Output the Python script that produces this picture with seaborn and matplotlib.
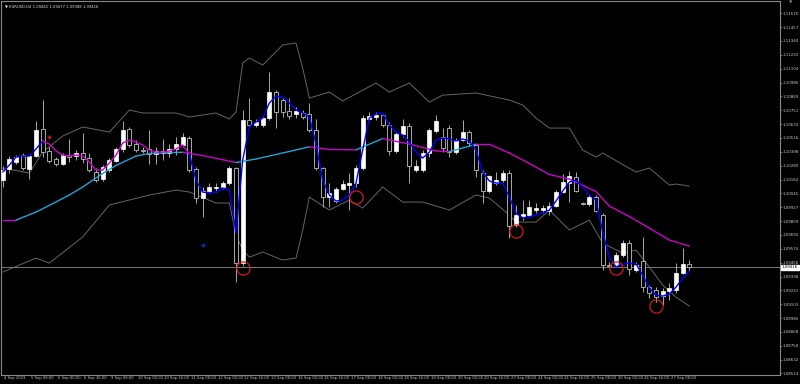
import numpy as np
import pandas as pd
import matplotlib
matplotlib.use("Agg")
import matplotlib.pyplot as plt
import matplotlib.transforms as mtransforms
import seaborn as sns

# ---------------- data (EURUSD H4, 4 Sep 16:00 .. 27 Sep 20:00) ----------------
opens = [1.10158, 1.10252, 1.10311, 1.10371, 1.10252, 1.10362, 1.10592, 1.10405, 1.10337, 1.10294,
         1.10371, 1.10362, 1.10388, 1.10345, 1.10226, 1.10167, 1.10243, 1.10320, 1.10422, 1.10592,
         1.10464, 1.10413, 1.10422, 1.10379, 1.10388, 1.10388, 1.10422, 1.10456, 1.10515, 1.10252,
         1.10005, 1.10065, 1.10092, 1.10099, 1.10133, 1.10260, 1.09452, 1.10668, 1.10626, 1.10626,
         1.10685, 1.10906, 1.10838, 1.10745, 1.10719, 1.10728, 1.10719, 1.10583, 1.10260, 1.10014,
         1.09980, 1.10082, 1.10116, 1.10133, 1.10260, 1.10677, 1.10694, 1.10711, 1.10626, 1.10405,
         1.10549, 1.10617, 1.10243, 1.10243, 1.10388, 1.10575, 1.10524, 1.10600, 1.10396, 1.10498,
         1.10566, 1.10456, 1.10218, 1.10065, 1.10133, 1.10158, 1.10218, 1.09776, 1.09852, 1.09861,
         1.09903, 1.09903, 1.09895, 1.09937, 1.10056, 1.10133, 1.10184, 1.09963, 1.09954, 1.10014,
         1.09861, 1.09436, 1.09436, 1.09521, 1.09622, 1.09393, 1.09469, 1.09248, 1.09223, 1.09172,
         1.09214, 1.09223, 1.09367, 1.09442]
highs = [1.10277, 1.10362, 1.10371, 1.10388, 1.10371, 1.10660, 1.10838, 1.10439, 1.10354, 1.10388,
         1.10507, 1.10413, 1.10558, 1.10388, 1.10260, 1.10286, 1.10345, 1.10439, 1.10660, 1.10609,
         1.10498, 1.10439, 1.10583, 1.10439, 1.10507, 1.10464, 1.10524, 1.10558, 1.10532, 1.10269,
         1.10099, 1.10133, 1.10133, 1.10150, 1.10277, 1.10269, 1.10753, 1.10855, 1.10677, 1.10702,
         1.11076, 1.10923, 1.10855, 1.10855, 1.10779, 1.10753, 1.10813, 1.10677, 1.10269, 1.10133,
         1.10099, 1.10158, 1.10218, 1.10286, 1.10711, 1.10736, 1.10736, 1.10728, 1.10651, 1.10566,
         1.10677, 1.10643, 1.10328, 1.10413, 1.10600, 1.10711, 1.10600, 1.10626, 1.10515, 1.10668,
         1.10583, 1.10473, 1.10243, 1.10201, 1.10226, 1.10243, 1.10243, 1.09946, 1.09988, 1.09988,
         1.09963, 1.09946, 1.09971, 1.10073, 1.10209, 1.10235, 1.10226, 1.09971, 1.10031, 1.10031,
         1.09878, 1.09461, 1.09546, 1.09648, 1.09648, 1.09461, 1.09674, 1.09265, 1.09248, 1.09240,
         1.09283, 1.09452, 1.09580, 1.09477]
lows = [1.10099, 1.10218, 1.10294, 1.10243, 1.10167, 1.10354, 1.10354, 1.10303, 1.10277, 1.10286,
        1.10311, 1.10328, 1.10303, 1.10226, 1.10141, 1.10150, 1.10226, 1.10311, 1.10396, 1.10439,
        1.10396, 1.10388, 1.10294, 1.10294, 1.10328, 1.10354, 1.10371, 1.10439, 1.10226, 1.09963,
        1.09844, 1.10048, 1.10056, 1.10082, 1.10116, 1.09291, 1.09427, 1.10600, 1.10609, 1.10609,
        1.10668, 1.10600, 1.10694, 1.10677, 1.10685, 1.10677, 1.10566, 1.10243, 1.09929, 1.09929,
        1.09963, 1.10073, 1.09903, 1.10099, 1.10243, 1.10668, 1.10668, 1.10609, 1.10371, 1.10388,
        1.10524, 1.10133, 1.10226, 1.10226, 1.10354, 1.10558, 1.10396, 1.10354, 1.10379, 1.10490,
        1.10447, 1.10184, 1.09963, 1.10048, 1.10116, 1.10141, 1.09665, 1.09759, 1.09818, 1.09844,
        1.09878, 1.09878, 1.09861, 1.09929, 1.10048, 1.09971, 1.10056, 1.09946, 1.09937, 1.09886,
        1.09393, 1.09410, 1.09419, 1.09503, 1.09350, 1.09376, 1.09206, 1.09155, 1.09121, 1.09095,
        1.09138, 1.09197, 1.09359, 1.09388]
closes = [1.10243, 1.10337, 1.10354, 1.10260, 1.10362, 1.10583, 1.10396, 1.10320, 1.10294, 1.10371,
          1.10354, 1.10388, 1.10337, 1.10243, 1.10158, 1.10269, 1.10328, 1.10422, 1.10583, 1.10456,
          1.10413, 1.10409, 1.10379, 1.10405, 1.10405, 1.10422, 1.10464, 1.10524, 1.10243, 1.10005,
          1.10065, 1.10099, 1.10096, 1.10133, 1.10260, 1.09452, 1.10668, 1.10626, 1.10651, 1.10685,
          1.10906, 1.10736, 1.10736, 1.10702, 1.10745, 1.10694, 1.10583, 1.10260, 1.10014, 1.10048,
          1.10082, 1.10124, 1.10133, 1.10260, 1.10685, 1.10702, 1.10711, 1.10626, 1.10405, 1.10549,
          1.10617, 1.10277, 1.10277, 1.10388, 1.10583, 1.10660, 1.10430, 1.10396, 1.10498, 1.10566,
          1.10473, 1.10243, 1.10065, 1.10192, 1.10158, 1.10218, 1.09767, 1.09861, 1.09869, 1.09929,
          1.09920, 1.09920, 1.09937, 1.10056, 1.10141, 1.10192, 1.10065, 1.09954, 1.10014, 1.09895,
          1.09436, 1.09427, 1.09521, 1.09622, 1.09401, 1.09436, 1.09248, 1.09197, 1.09163, 1.09214,
          1.09240, 1.09367, 1.09444, 1.09416]

# fast moving average (one value per bar)
fast_ma = [1.10226, 1.10286, 1.10354, 1.10362, 1.10362, 1.10422, 1.10490, 1.10464, 1.10405, 1.10371,
           1.10362, 1.10371, 1.10362, 1.10311, 1.10243, 1.10243, 1.10303, 1.10371, 1.10473, 1.10498,
           1.10481, 1.10456, 1.10413, 1.10396, 1.10396, 1.10405, 1.10422, 1.10456, 1.10379, 1.10158,
           1.10056, 1.10048, 1.10056, 1.10090, 1.10073, 1.09708, 1.10328, 1.10609, 1.10651, 1.10685,
           1.10813, 1.10872, 1.10864, 1.10813, 1.10753, 1.10728, 1.10694, 1.10464, 1.10158, 1.10031,
           1.09980, 1.09988, 1.10031, 1.10133, 1.10413, 1.10685, 1.10719, 1.10728, 1.10626, 1.10566,
           1.10541, 1.10481, 1.10396, 1.10345, 1.10396, 1.10498, 1.10515, 1.10507, 1.10490, 1.10507,
           1.10490, 1.10413, 1.10226, 1.10150, 1.10133, 1.10133, 1.10014, 1.09878, 1.09835, 1.09844,
           1.09861, 1.09878, 1.09903, 1.09980, 1.10065, 1.10141, 1.10158, 1.10099, 1.10031, 1.09988,
           1.09716, 1.09503, 1.09419, 1.09444, 1.09452, 1.09444, 1.09350, 1.09240, 1.09180, 1.09172,
           1.09189, 1.09248, 1.09325, 1.09384]
fast_alt_from, fast_alt_to = 6, 28   # stretch drawn in magenta

# slow moving average, read at selected bars
slow_bars = [0, 2, 5, 7, 10, 12, 15, 17, 20, 22, 25, 27, 30, 32, 35, 38, 43, 46, 49, 53,
             57, 61, 65, 67, 71, 73, 76, 79, 82, 85, 89, 91, 94, 97, 100, 103]
slow_vals = [1.09818, 1.09818, 1.09886, 1.09943, 1.10031, 1.10099, 1.10214, 1.10282, 1.10362, 1.10384,
             1.10392, 1.10394, 1.10366, 1.10343, 1.10307, 1.10337, 1.10401, 1.10441, 1.10418, 1.10415,
             1.10511, 1.10464, 1.10405, 1.10400, 1.10462, 1.10462, 1.10388, 1.10299, 1.10205, 1.10167,
             1.10061, 1.09937, 1.09848, 1.09750, 1.09648, 1.09597]

# envelope bands, read at selected bars
upper_bars = [0, 4, 6, 9, 12, 16, 19, 21, 26, 28, 32, 34, 35, 36, 37, 39, 42, 44, 45, 46,
              49, 51, 56, 58, 61, 64, 66, 71, 76, 78, 80, 82, 85, 87, 89, 90, 95, 97, 100, 101, 103]
upper_vals = [1.10260, 1.10218, 1.10396, 1.10532, 1.10609, 1.10566, 1.10753, 1.10728, 1.10728, 1.10694,
              1.10728, 1.10677, 1.10736, 1.11153, 1.11195, 1.11136, 1.11306, 1.11323, 1.11110, 1.10855,
              1.10906, 1.10830, 1.10983, 1.10906, 1.10983, 1.10821, 1.10880, 1.10898, 1.10838, 1.10796,
              1.10685, 1.10600, 1.10600, 1.10413, 1.10354, 1.10388, 1.10226, 1.10260, 1.10116, 1.10124,
              1.10107]
lower_bars = [0, 5, 7, 12, 16, 22, 26, 28, 32, 34, 35, 36, 37, 39, 42, 44, 45, 46, 49, 52,
              54, 57, 60, 63, 67, 71, 73, 76, 77, 80, 82, 85, 88, 90, 93, 95, 97, 99, 101, 103]
lower_vals = [1.09376, 1.09495, 1.09452, 1.09674, 1.09946, 1.10031, 1.10073, 1.10056, 1.09963, 1.09963,
              1.09691, 1.09563, 1.09503, 1.09546, 1.09478, 1.09495, 1.09733, 1.10014, 1.09903, 1.09988,
              1.09920, 1.10099, 1.09971, 1.09971, 1.09903, 1.10031, 1.10005, 1.09861, 1.09801, 1.09801,
              1.09903, 1.09733, 1.09818, 1.09622, 1.09537, 1.09563, 1.09419, 1.09265, 1.09163, 1.09087]

# signal markers
signal_bars = [36, 53, 77, 92, 98]
signal_prices = [1.09414, 1.10016, 1.09727, 1.09412, 1.09090]
red_cross = (7, 1.10524)
blue_cross = (30, 1.09605)

# axis labels
x_tick_bars = list(range(0, 101, 4))
x_tick_labels = ["4 Sep 2019", "5 Sep 08:00", "6 Sep 00:00", "6 Sep 16:00", "9 Sep 08:00",
                 "10 Sep 00:00", "10 Sep 16:00", "11 Sep 08:00", "12 Sep 00:00", "12 Sep 16:00",
                 "13 Sep 08:00", "16 Sep 00:00", "16 Sep 16:00", "17 Sep 08:00", "18 Sep 00:00",
                 "18 Sep 16:00", "19 Sep 08:00", "20 Sep 00:00", "20 Sep 16:00", "23 Sep 08:00",
                 "24 Sep 00:00", "24 Sep 16:00", "25 Sep 08:00", "26 Sep 00:00", "26 Sep 16:00",
                 "27 Sep 08:00"]
y_tick_labels = ["1.11575", "1.11457", "1.11340", "1.11222", "1.11104", "1.10986", "1.10869",
                 "1.10751", "1.10633", "1.10516", "1.10398", "1.10280", "1.10162", "1.10045",
                 "1.09927", "1.09809", "1.09692", "1.09574", "1.09456", "1.09338", "1.09221",
                 "1.09103", "1.08985", "1.08868", "1.08750", "1.08632", "1.08514"]
title_text = "\u25bc EURUSD,H4 1.09442 1.09477 1.09388 1.09416"
last_price = 1.09416

# ---------------- styling ----------------
sns.set_theme(style="dark", rc={"axes.facecolor": "black", "figure.facecolor": "black",
                                "savefig.facecolor": "black"})
plt.rcParams['font.family'] = ['DejaVu Sans']

GRAY = "#8a8a8a"
WICK = "#a8a8a8"
TXT = "#c8c8c8"

fig = plt.figure(figsize=(8, 3.84), dpi=100)
ax = fig.add_axes([1 / 800, 9 / 384, 779 / 800, 374 / 384])
ax.set_facecolor("black")

o = np.array(opens); h = np.array(highs); l = np.array(lows); c = np.array(closes)
bars = np.arange(len(o))
bull = c >= o
bear = ~bull

# wicks and bodies
ax.vlines(bars, l, h, colors=WICK, linewidth=0.7, zorder=2)
ax.bar(bars[bull], (c - o)[bull], bottom=o[bull], width=0.58, color="white",
       edgecolor="white", linewidth=0.5, zorder=3)
ax.bar(bars[bear], (o - c)[bear], bottom=c[bear], width=0.58, color="black",
       edgecolor=WICK, linewidth=0.7, zorder=3)

# current price line
ax.axhline(last_price, color="#7a7a7a", linewidth=0.7, zorder=1)

# bands
sns.lineplot(x=upper_bars, y=upper_vals, color="#666666", linewidth=0.7, ax=ax, zorder=1.5)
sns.lineplot(x=lower_bars, y=lower_vals, color="#666666", linewidth=0.7, ax=ax, zorder=1.5)

# slow MA coloured by direction
for i in range(len(slow_bars) - 1):
    col = "#1ea5d8" if slow_vals[i + 1] > slow_vals[i] else "#cc00cc"
    ax.plot(slow_bars[i:i + 2], slow_vals[i:i + 2], color=col, linewidth=1.0,
            solid_capstyle="round", zorder=4)

# fast MA
df_fast = pd.DataFrame({"bar": bars, "price": fast_ma})
seg1 = df_fast[df_fast.bar <= fast_alt_from]
seg2 = df_fast[(df_fast.bar >= fast_alt_from) & (df_fast.bar <= fast_alt_to)]
seg3 = df_fast[df_fast.bar >= fast_alt_to]
sns.lineplot(data=seg1, x="bar", y="price", color="#0000ff", linewidth=1.0, ax=ax, zorder=5)
sns.lineplot(data=seg2, x="bar", y="price", color="#cc00cc", linewidth=1.0, ax=ax, zorder=5)
sns.lineplot(data=seg3, x="bar", y="price", color="#0000ff", linewidth=1.0, ax=ax, zorder=5)

# signals
ax.plot(signal_bars, signal_prices, linestyle="none", marker="o", markersize=9.5,
        markerfacecolor="none", markeredgecolor="#d01818", markeredgewidth=0.9, zorder=6)
ax.plot(*red_cross, marker="+", color="#e02020", markersize=3.5, markeredgewidth=0.9, zorder=6)
ax.plot(*blue_cross, marker="+", color="#1030e0", markersize=3.5, markeredgewidth=0.9, zorder=6)

# axes
ax.set_xlim(-0.255, 116.6)
ax.set_ylim(1.08501, 1.11680)
ax.grid(False)
ax.set_xlabel("")
ax.set_ylabel("")
for sp in ax.spines.values():
    sp.set_visible(True)
    sp.set_color(GRAY)
    sp.set_linewidth(0.8)

ax.set_xticks(x_tick_bars)
ax.set_xticklabels(x_tick_labels, ha="left", fontsize=2.7, color=TXT)
ax.tick_params(axis="x", direction="out", length=2.2, width=0.5, color=GRAY, pad=-1.6)
shift = mtransforms.ScaledTranslation(1.5 / 100, 0, fig.dpi_scale_trans)
for lab in ax.get_xticklabels():
    lab.set_transform(lab.get_transform() + shift)

ax.yaxis.tick_right()
ax.set_yticks([float(v) for v in y_tick_labels])
ax.set_yticklabels(y_tick_labels, fontsize=2.9, color=TXT)
ax.tick_params(axis="y", direction="out", length=1.3, width=0.5, color=GRAY, pad=0.5)

# price box
trans = mtransforms.blended_transform_factory(ax.transAxes, ax.transData)
ax.text(1.0022, last_price, f"{last_price:.5f}", transform=trans, ha="left", va="center",
        fontsize=2.9, color="black", zorder=10, clip_on=False,
        bbox=dict(boxstyle="square,pad=0.2", facecolor="white", edgecolor="white"))

# title
ax.text(0.005, 0.99, title_text, transform=ax.transAxes, ha="left", va="top",
        fontsize=2.7, color="#e0e0e0", zorder=10)
fig.text(791 / 800, 1 - 3 / 384, "\u25bc", ha="center", va="center", fontsize=3.2, color=GRAY)

fig.savefig("out.png", dpi=100, facecolor="black")
